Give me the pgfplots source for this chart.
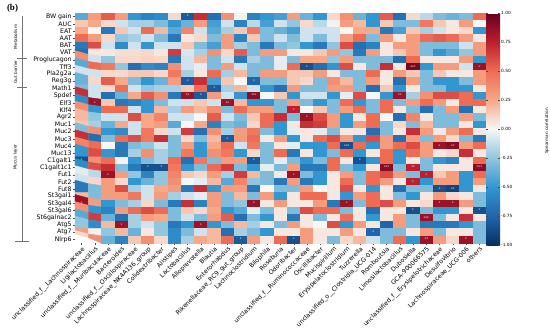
\documentclass[border=0pt]{standalone}
\usepackage{pgfplots}
\pgfplotsset{compat=1.18}
\usepackage{fontspec}
\setmainfont{DejaVu Sans}
\newfontfamily\serifb{Liberation Serif}
\begin{document}
\begin{tikzpicture}[x=1pt,y=1pt]
\useasboundingbox (0,0) rectangle (550,-335);
\begin{axis}[
  at={(75pt,-243pt)}, anchor=south west,
  scale only axis, width=411pt, height=230pt,
  xmin=-0.5, xmax=30.5, ymin=-0.5, ymax=31.5, y dir=reverse,
  enlargelimits=false,
  axis line style={draw=none},
  tick align=outside, major tick length=2.2pt,
  tick style={black!70, line width=0.4pt},
  xtick pos=bottom, ytick pos=left,
  xtick={0,...,30}, ytick={0,...,31},
  xticklabels={unclassified\_f\_\_Lachnospiraceae,Ligilactobacillus,unclassified\_f\_\_Muribaculaceae,Bacteroides,unclassified\_f\_\_Oscillospiraceae,Lachnospiraceae\_NK4A136\_group,Colidextribacter,Alistipes,Lactobacillus,Alloprevotella,Blautia,Enterorhabdus,Rikenellaceae\_RC9\_gut\_group,Lachnoclostridium,Bilophila,Roseburia,Odoribacter,unclassified\_f\_\_Ruminococcaceae,Oscillibacter,Mucispirillum,Erysipelatoclostridium,Tuzzerella,unclassified\_o\_\_Clostridia\_UCG-014,Romboutsia,Limosilactobacillus,Dubosiella,GCA-900066575,unclassified\_f\_\_Erysipelotrichaceae,Desulfovibrio,Lachnospiraceae\_UCG-006,others},
  yticklabels={BW gain,AUC,EAT,AAT,BAT,VAT,Proglucagon,Tff3,Pla2g2a,Reg3g,Math1,Spdef,Elf3,Klf4,Agr2,Muc1,Muc2,Muc3,Muc4,Muc13,C1galt1,C1galt1c1,Fut1,Fut2,Fut8,St3gal1,St3gal4,St3gal6,St6galnac2,Atg5,Atg7,Nlrp6},
  x tick label style={rotate=45, anchor=north east, inner sep=0.6pt, font=\fontsize{6.2}{7}\selectfont},
  y tick label style={inner sep=1pt, font=\fontsize{6.2}{7}\selectfont},
  colormap={rdbu}{rgb255=(5,48,97) rgb255=(33,102,172) rgb255=(50,150,208) rgb255=(146,197,222) rgb255=(247,247,247) rgb255=(246,168,135) rgb255=(238,108,84) rgb255=(190,30,45) rgb255=(103,0,31)},
  point meta min=-1, point meta max=1,
  colorbar right,
  colorbar style={
    at={(1,1)}, anchor=north west, xshift=27pt, yshift=-2pt,
    scale only axis, width=14pt, height=232pt,
    ytick={-1,-0.75,-0.5,-0.25,0,0.25,0.5,0.75,1},
    major tick length=1.8pt, tick style={black!70, line width=0.4pt},
    axis line style={draw=none},
    yticklabel style={font=\fontsize{4.3}{5}\selectfont, inner sep=1pt,
      /pgf/number format/.cd, fixed, fixed zerofill, precision=2, assume math mode=true},
    scaled y ticks=false,
  },
]
\addplot[matrix plot*, mesh/cols=31, mesh/rows=32, point meta=explicit]
table[header=false, row sep=\\, x expr={mod(\coordindex,31)}, y expr={floor(\coordindex/31)}, meta index=0] {
-0.4\\0.3\\0.55\\0.3\\-0.5\\-0.6\\-0.55\\0.1\\-0.8\\0.7\\-0.7\\0.35\\0.02\\-0.6\\-0.5\\-0.45\\0.3\\-0.35\\-0.5\\0.1\\0.35\\-0.35\\-0.5\\0.55\\-0.7\\0.1\\-0.15\\-0.3\\-0.35\\-0.3\\0.5\\
0.15\\0.25\\0.1\\-0.1\\-0.2\\-0.2\\-0.3\\-0.5\\-0.35\\0.3\\-0.45\\-0.1\\-0.6\\-0.15\\-0.45\\-0.1\\-0.25\\0.1\\-0.15\\0.02\\0.3\\0.2\\-0.5\\0.15\\-0.3\\-0.3\\0.45\\0.15\\0.05\\0.3\\0.0\\
0.25\\0.0\\-0.65\\0.15\\-0.1\\0.5\\0.2\\-0.4\\0.4\\-0.1\\-0.4\\-0.2\\0.15\\0.45\\-0.3\\-0.35\\-0.45\\-0.1\\-0.1\\-0.1\\0.0\\0.25\\0.25\\-0.65\\-0.45\\0.15\\-0.2\\-0.1\\0.05\\0.1\\-0.5\\
0.5\\0.3\\0.1\\-0.25\\-0.2\\-0.1\\-0.3\\-0.65\\0.05\\0.1\\-0.3\\0.3\\-0.6\\0.15\\-0.3\\-0.1\\-0.3\\-0.1\\-0.3\\-0.1\\0.3\\0.5\\-0.3\\0.3\\0.05\\0.3\\0.5\\0.55\\0.5\\0.3\\0.05\\
-0.65\\0.6\\-0.1\\-0.55\\-0.1\\-0.5\\-0.1\\-0.1\\0.15\\-0.3\\-0.45\\0.3\\-0.2\\-0.3\\-0.65\\-0.3\\-0.25\\-0.5\\-0.65\\-0.25\\0.6\\-0.7\\-0.6\\0.05\\0.3\\0.3\\-0.3\\-0.3\\-0.3\\-0.1\\0.3\\
-0.7\\0.05\\0.05\\0.08\\0.08\\0.1\\0.05\\0.65\\-0.08\\-0.2\\0.35\\0.1\\0.55\\-0.3\\0.3\\0.3\\0.05\\0.05\\0.15\\0.3\\-0.25\\-0.65\\0.3\\0.05\\0.15\\0.3\\-0.3\\-0.5\\-0.4\\-0.25\\0.3\\
0.35\\-0.1\\-0.25\\0.1\\0.1\\0.12\\0.1\\-0.65\\-0.1\\0.2\\-0.3\\-0.1\\-0.65\\-0.2\\-0.3\\-0.05\\-0.3\\0.25\\0.25\\-0.25\\0.3\\-0.3\\-0.3\\-0.3\\-0.7\\0.5\\0.05\\0.05\\0.05\\0.3\\-0.5\\
-0.4\\0.5\\0.45\\-0.25\\-0.7\\-0.55\\-0.6\\0.35\\-0.1\\-0.05\\-0.3\\0.3\\-0.1\\-0.3\\-0.3\\-0.05\\0.5\\-0.85\\-0.7\\-0.5\\0.6\\0.05\\-0.3\\0.7\\0.05\\0.95\\-0.5\\0.3\\0.3\\-0.1\\0.85\\
-0.1\\-0.1\\0.1\\0.1\\0.15\\0.15\\0.1\\0.45\\-0.2\\0.05\\0.5\\-0.2\\0.2\\-0.3\\0.3\\0.3\\0.15\\0.15\\0.3\\0.05\\-0.3\\-0.3\\0.5\\0.05\\0.3\\0.15\\-0.3\\0.15\\0.05\\0.05\\0.3\\
-0.35\\0.1\\0.55\\0.25\\-0.3\\-0.5\\-0.35\\0.3\\-0.8\\0.7\\-0.45\\0.15\\0.0\\-0.75\\-0.3\\-0.3\\0.15\\0.1\\-0.3\\0.35\\0.2\\-0.3\\0.3\\0.05\\-0.7\\0.3\\-0.3\\-0.5\\-0.5\\-0.3\\0.3\\
-0.3\\-0.1\\0.1\\0.5\\-0.1\\-0.25\\-0.2\\-0.2\\0.15\\0.5\\-0.8\\-0.2\\0.2\\-0.1\\-0.5\\-0.7\\0.3\\-0.3\\-0.3\\0.3\\0.3\\-0.3\\-0.7\\0.15\\-0.5\\0.05\\-0.3\\-0.3\\-0.5\\-0.5\\0.05\\
0.7\\-0.1\\-0.7\\-0.35\\0.25\\0.55\\0.35\\-0.65\\0.85\\-0.8\\0.3\\-0.1\\-0.5\\0.9\\0.0\\0.15\\-0.5\\-0.1\\-0.1\\-0.5\\-0.05\\0.6\\0.0\\-0.5\\0.85\\-0.2\\0.35\\0.6\\0.6\\0.5\\-0.5\\
-0.55\\0.85\\0.15\\-0.65\\-0.6\\-0.5\\-0.3\\-0.1\\-0.1\\0.15\\-0.1\\0.85\\0.2\\-0.5\\-0.5\\-0.3\\0.3\\-0.3\\-0.5\\-0.3\\0.5\\-0.5\\-0.3\\0.5\\-0.3\\0.3\\0.5\\0.3\\0.05\\0.5\\0.5\\
0.35\\-0.5\\0.5\\0.5\\-0.1\\-0.5\\0.2\\-0.2\\0.3\\0.2\\0.35\\-0.3\\0.5\\0.3\\0.3\\-0.3\\0.75\\0.0\\0.15\\-0.3\\0.3\\0.5\\-0.3\\0.5\\0.05\\-0.3\\-0.7\\-0.3\\0.3\\-0.7\\0.05\\
0.2\\-0.25\\-0.1\\-0.1\\0.6\\0.25\\0.4\\-0.1\\-0.1\\0.0\\0.55\\-0.1\\-0.3\\0.15\\0.5\\0.7\\-0.3\\0.85\\0.6\\0.3\\-0.5\\0.05\\0.5\\0.0\\-0.7\\0.4\\0.05\\-0.3\\-0.3\\0.3\\-0.3\\
0.15\\-0.2\\-0.35\\0.25\\-0.1\\0.25\\0.3\\-0.4\\0.0\\0.25\\-0.6\\-0.3\\-0.35\\0.1\\0.5\\-0.5\\0.05\\0.7\\0.65\\0.3\\-0.5\\0.3\\0.5\\-0.3\\0.1\\-0.3\\0.2\\-0.3\\-0.3\\0.05\\-0.5\\
-0.3\\0.35\\-0.5\\-0.55\\-0.1\\0.45\\0.1\\-0.1\\0.65\\-0.7\\0.35\\-0.2\\0.3\\0.45\\-0.3\\-0.5\\-0.05\\0.05\\-0.05\\-0.3\\0.05\\0.05\\-0.7\\-0.3\\0.05\\0.7\\0.3\\0.05\\0.3\\0.5\\0.05\\
0.7\\-0.7\\-0.3\\0.5\\0.6\\0.45\\0.7\\-0.3\\0.1\\-0.3\\0.2\\-0.8\\0.3\\0.5\\0.05\\0.3\\-0.5\\0.05\\0.5\\0.6\\0.3\\-0.5\\0.6\\0.3\\-0.7\\0.3\\-0.3\\0.3\\0.1\\-0.3\\-0.65\\
0.4\\0.5\\0.0\\-0.65\\-0.3\\-0.25\\-0.1\\-0.3\\0.3\\-0.5\\0.25\\0.5\\-0.1\\0.45\\-0.3\\0.05\\-0.05\\-0.5\\-0.5\\0.5\\-0.85\\0.5\\-0.5\\0.3\\0.5\\0.6\\0.3\\0.85\\0.9\\0.3\\0.5\\
-0.5\\0.6\\-0.5\\-0.65\\-0.2\\0.35\\-0.2\\-0.3\\0.45\\-0.5\\0.35\\0.45\\-0.5\\0.1\\-0.3\\0.5\\-0.65\\0.05\\-0.5\\-0.3\\0.5\\-0.5\\0.05\\0.5\\-0.5\\0.5\\0.3\\0.05\\0.1\\0.7\\0.05\\
-0.85\\0.35\\0.5\\0.02\\-0.5\\-0.3\\-0.2\\0.5\\-0.7\\0.45\\-0.3\\0.3\\0.3\\-0.8\\-0.3\\-0.05\\-0.3\\-0.5\\-0.3\\0.5\\0.05\\-0.85\\-0.5\\0.5\\-0.5\\0.05\\-0.3\\-0.5\\-0.6\\0.05\\0.5\\
-0.55\\0.6\\0.7\\-0.3\\-0.65\\-0.85\\-0.85\\0.45\\-0.5\\-0.3\\0.5\\0.65\\-0.3\\-0.5\\-0.05\\-0.3\\0.3\\-0.65\\-0.65\\0.5\\-0.3\\-0.5\\0.05\\0.9\\-0.3\\0.75\\-0.3\\0.05\\0.05\\0.05\\0.9\\
-0.05\\-0.15\\0.85\\0.3\\-0.25\\-0.6\\-0.25\\0.4\\0.15\\0.1\\0.3\\-0.2\\0.65\\0.2\\-0.3\\0.05\\0.85\\-0.3\\-0.5\\0.05\\0.3\\-0.3\\0.5\\0.6\\0.3\\-0.3\\0.75\\0.15\\0.3\\-0.5\\0.5\\
-0.1\\0.1\\0.3\\0.1\\-0.5\\-0.35\\-0.25\\0.35\\0.0\\-0.05\\0.2\\-0.4\\0.4\\-0.25\\-0.3\\-0.65\\0.3\\-0.65\\-0.5\\0.05\\0.5\\-0.3\\0.5\\0.3\\0.05\\0.75\\-0.5\\0.3\\0.3\\-0.5\\0.3\\
-0.65\\-0.3\\0.3\\0.6\\-0.2\\-0.1\\0.25\\0.3\\-0.65\\0.7\\-0.5\\0.3\\0.3\\-0.65\\0.0\\-0.3\\-0.3\\0.3\\0.0\\0.05\\0.6\\0.05\\-0.5\\0.05\\-0.7\\-0.3\\-0.3\\-0.85\\-0.9\\-0.5\\0.05\\
0.2\\-0.3\\0.3\\0.3\\0.45\\-0.1\\0.3\\-0.2\\-0.1\\-0.05\\0.3\\-0.3\\0.2\\-0.3\\0.3\\-0.5\\0.05\\0.5\\0.5\\0.05\\-0.5\\0.3\\0.5\\0.05\\-0.3\\-0.5\\0.05\\0.3\\0.1\\0.05\\-0.3\\
0.85\\0.3\\-0.5\\-0.3\\-0.2\\0.1\\-0.3\\-0.65\\0.7\\-0.6\\0.3\\-0.3\\-0.25\\0.85\\0.05\\0.3\\0.05\\0.05\\0.3\\-0.65\\0.85\\-0.3\\0.5\\0.6\\0.3\\0.05\\0.1\\0.85\\0.85\\0.3\\-0.3\\
0.35\\-0.5\\-0.6\\0.3\\0.5\\0.6\\0.5\\-0.3\\0.15\\0.1\\0.25\\-0.5\\-0.4\\-0.05\\-0.3\\0.05\\-0.3\\0.6\\0.5\\0.5\\-0.3\\0.05\\-0.7\\0.05\\0.05\\-0.85\\-0.3\\-0.5\\-0.5\\0.05\\-0.85\\
-0.4\\0.65\\-0.35\\-0.7\\-0.2\\0.3\\0.25\\-0.3\\-0.1\\-0.3\\0.3\\0.55\\-0.7\\-0.3\\-0.5\\0.05\\-0.65\\0.05\\-0.3\\0.05\\0.5\\0.05\\-0.5\\0.05\\0.3\\-0.3\\0.85\\-0.3\\0.05\\0.7\\0.05\\
-0.25\\-0.55\\0.2\\0.85\\-0.2\\-0.1\\-0.25\\-0.65\\-0.5\\0.85\\-0.5\\-0.3\\0.2\\-0.2\\0.05\\-0.3\\0.3\\0.05\\0.0\\0.6\\-0.5\\0.3\\0.05\\-0.75\\0.3\\-0.3\\-0.65\\-0.65\\-0.65\\-0.5\\-0.3\\
0.3\\0.02\\-0.25\\0.2\\-0.35\\0.05\\-0.25\\-0.55\\-0.3\\-0.1\\0.2\\-0.7\\-0.2\\-0.3\\-0.5\\0.05\\0.05\\0.3\\0.05\\0.05\\0.3\\0.05\\-0.75\\-0.3\\-0.3\\0.05\\0.3\\-0.3\\0.05\\0.05\\-0.3\\
0.1\\0.35\\-0.35\\-0.6\\0.15\\0.35\\0.1\\-0.55\\-0.2\\0.25\\0.2\\0.5\\-0.8\\0.3\\0.05\\0.5\\-0.85\\0.3\\0.05\\-0.3\\0.1\\0.2\\-0.1\\-0.3\\0.5\\-0.5\\0.85\\0.3\\0.1\\0.85\\-0.3\\
};
\addplot[only marks, mark=none, point meta=explicit symbolic,
  nodes near coords, nodes near coords style={font=\fontsize{3.6}{4}\selectfont, text=white, anchor=center, inner sep=0pt}]
table[meta=s] {
x y s
8 0 *
8 9 *
13 9 *
10 10 *
8 11 **
9 11 *
13 11 ***
24 11 **
1 12 *
11 12 **
17 7 *
25 7 ***
30 7 *
16 13 *
17 14 *
11 17 *
20 18 ***
27 18 *
28 18 **
0 20 *
13 20 *
21 20 *
5 21 *
6 21 *
23 21 ***
25 21 **
30 21 ***
2 22 *
16 22 *
26 22 *
25 23 *
27 24 *
28 24 **
0 26 *
13 26 *
20 26 *
27 26 *
28 26 *
25 27 *
30 27 *
26 28 ***
3 29 *
9 29 *
22 30 *
12 31 *
16 31 *
26 31 **
29 31 *
};
\end{axis}
% group brackets
\draw[black!55, line width=0.5pt] (22,-16) -- (22,-241);
\draw[black!55, line width=0.5pt] (17,-58) -- (27,-58);
\draw[black!55, line width=0.5pt] (17,-87) -- (27,-87);
\draw[black!55, line width=0.5pt] (15,-241) -- (29,-241);
\node[rotate=90, font=\fontsize{4.2}{5}\selectfont, inner sep=0pt] at (15.5,-37) {Metabolism};
\node[rotate=90, font=\fontsize{4.2}{5}\selectfont, inner sep=0pt] at (15.5,-72) {Gut barrier};
\node[rotate=90, font=\fontsize{4.2}{5}\selectfont, inner sep=0pt] at (15.5,-157) {Mucus layer};
\node[rotate=90, font=\fontsize{4.2}{5}\selectfont, inner sep=0pt] at (547,-131) {Spearman correlation};
\node[font=\serifb\bfseries\fontsize{9}{10}\selectfont, inner sep=0pt] at (12.5,-8.5) {(b)};
\end{tikzpicture}
\end{document}
